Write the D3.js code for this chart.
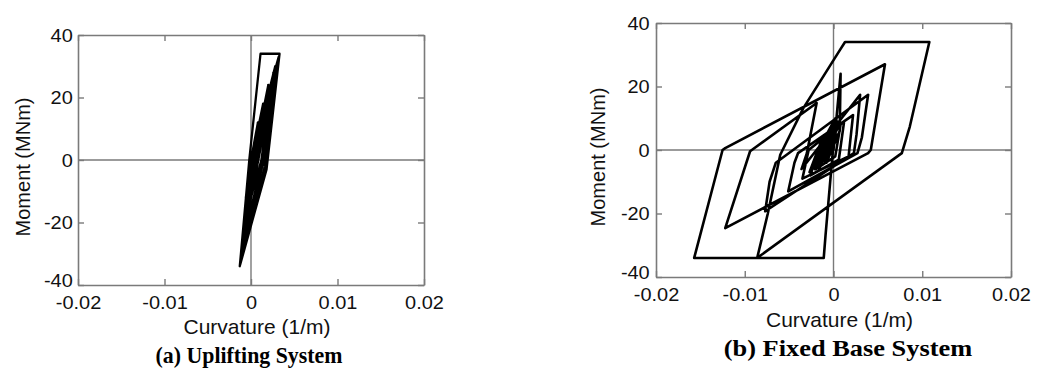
<!DOCTYPE html>
<html>
<head>
<meta charset="utf-8">
<script src="https://cdn.jsdelivr.net/npm/d3@7"></script>
<style>
  body { margin: 0; background: #fff; }
  svg { display: block; }
</style>
</head>
<body>
<svg id="chart" width="1039" height="373"></svg>
<script>
// axis ticks shared by both panels
const curvatureTicks = [-0.02, -0.01, 0, 0.01, 0.02];
const momentTicks = [-40, -20, 0, 20, 40];

// (a) uplifting system: [curvature (1/m), moment (MNm)]
const uplifting = [
  [0, 0], [0.0008, 12], [-0.0003, -5], [0.0014, 18], [-0.0006, -12], [0.0020, 24],
  [0.0003, -2], [-0.0009, -22], [0.0026, 28], [0.0011, -3], [-0.0011, -28],
  [0.0030, 31], [0.0016, -2], [-0.0012, -31], [-0.0002, 0], [0.0011, 34],
  [0.0033, 34], [0.0018, -3], [-0.0013, -34], [-0.0003, -4], [0.0028, 30],
  [0.0015, 0], [-0.0010, -27], [-0.0001, 0], [0.0025, 26], [0.0012, 0],
  [-0.0008, -20], [0.0002, 2], [0.0031, 32], [0.0017, -1], [-0.0012, -32],
  [-0.0002, -1], [0.0032, 33], [0.0016, -3], [-0.0011, -30], [0, 0]
];

// (b) fixed base system: [curvature (1/m), moment (MNm)]
const fixedBase = [
  [0, 0], [0.0003, 9], [0.0008, 24], [0.0007, 6], [-0.0008, -4], [0.0002, 7],
  [-0.0016, -6], [0.0004, 9], [-0.0023, -5], [0.0001, 8], [-0.0013, -3],
  [0.0005, 7], [-0.0027, -7], [-0.0019, -1], [0.0002, 10], [-0.0010, -4],
  [0.0003, 5], [-0.0021, -6], [-0.0014, 0], [0.0004, 9], [0, 2],
  [-0.0009, -27], [-0.0011, -34], [-0.0086, -34], [-0.0074, -20], [-0.0060, -1.5],
  [-0.0034, 13.2], [0.00075, 31.6], [0.0013, 34], [0.0108, 34], [0.0086, 7.4],
  [0.0077, -1], [-0.0086, -34], [-0.0157, -34], [-0.0125, 0], [-0.0122, 0.6],
  [0.0058, 27], [0.0042, 0], [0.0039, -1], [-0.0122, -24.6], [-0.0094, -0.4],
  [-0.0019, 14.8], [-0.0030, -1], [-0.0036, -6], [0.0030, 17.4], [0.0026, 5],
  [0.0023, -1], [-0.0077, -19.3], [-0.0072, -10], [-0.0065, -4], [0.0039, 17.4],
  [0.0032, 4], [0.0027, -1], [-0.0051, -13], [-0.0044, -4], [-0.0040, -1],
  [0.0022, 11], [0.0017, -2], [-0.0035, -9], [-0.0028, 0], [0.0012, 9],
  [0.0006, -3], [-0.0026, -8], [-0.0015, 2], [0.0008, 8], [0.0002, -2],
  [-0.0020, -6], [-0.0006, 4], [0.0003, 6], [-0.0012, -3], [-0.0004, 3],
  [-0.0018, -5], [0, 2]
];

const svg = d3.select('#chart');

function drawPanel(cfg) {
  const x = d3.scaleLinear().domain([-0.02, 0.02]).range(cfg.xRange);
  const y = d3.scaleLinear().domain([-40, 40]).range(cfg.yRange);
  const g = svg.append('g');
  const grey = '#7a7a7a';

  // zero lines
  g.append('line')
    .attr('x1', x(0)).attr('x2', x(0))
    .attr('y1', y(40)).attr('y2', y(-40))
    .attr('stroke', grey).attr('stroke-width', 1.4);
  g.append('line')
    .attr('x1', x(-0.02)).attr('x2', x(0.02))
    .attr('y1', y(0)).attr('y2', y(0))
    .attr('stroke', grey).attr('stroke-width', 1.4);

  const fmt = d => String(d);
  const styleAxis = sel => sel
    .call(s => s.select('.domain').attr('stroke', grey).attr('stroke-width', 1.6))
    .call(s => s.selectAll('.tick line').attr('stroke', grey).attr('stroke-width', 1.4))
    .call(s => s.selectAll('.tick text')
      .attr('fill', '#111')
      .attr('font-family', 'Liberation Sans, Arial, sans-serif')
      .attr('font-size', cfg.tickSize)
      .attr('transform', `scale(${cfg.stretch},1)`));

  g.append('g')
    .attr('transform', `translate(0,${y(-40)})`)
    .call(d3.axisBottom(x).tickValues(curvatureTicks).tickFormat(fmt)
      .tickSizeInner(-6).tickSizeOuter(0).tickPadding(cfg.xPad))
    .call(styleAxis);
  g.append('g')
    .attr('transform', `translate(0,${y(40)})`)
    .call(d3.axisTop(x).tickValues(curvatureTicks).tickFormat('')
      .tickSizeInner(-6).tickSizeOuter(0))
    .call(styleAxis);
  g.append('g')
    .attr('transform', `translate(${x(-0.02)},0)`)
    .call(d3.axisLeft(y).tickValues(momentTicks).tickFormat(fmt)
      .tickSizeInner(-6).tickSizeOuter(0).tickPadding(cfg.yPad))
    .call(styleAxis)
    .call(s => s.selectAll('.tick text').filter(d => d === -40).attr('dy', '0.1em'));
  g.append('g')
    .attr('transform', `translate(${x(0.02)},0)`)
    .call(d3.axisRight(y).tickValues(momentTicks).tickFormat('')
      .tickSizeInner(-6).tickSizeOuter(0))
    .call(styleAxis);

  // hysteresis curve
  const line = d3.line().x(d => x(d[0])).y(d => y(d[1]));
  g.append('path')
    .datum(cfg.data)
    .attr('fill', 'none')
    .attr('stroke', '#000')
    .attr('stroke-width', cfg.lineWidth)
    .attr('stroke-linejoin', 'round')
    .attr('stroke-linecap', 'round')
    .attr('d', line);

  // axis titles
  const cx = (cfg.xRange[0] + cfg.xRange[1]) / 2 + 6;
  g.append('text')
    .attr('transform', `translate(${cx},${cfg.xTitleY}) scale(${cfg.stretch},1)`)
    .attr('text-anchor', 'middle')
    .attr('font-family', 'Liberation Sans, Arial, sans-serif')
    .attr('font-size', cfg.titleSize)
    .attr('fill', '#111')
    .text('Curvature (1/m)');
  g.append('text')
    .attr('transform', `translate(${cfg.yTitleX},${(cfg.yRange[0] + cfg.yRange[1]) / 2 + 7}) rotate(-90)`)
    .attr('text-anchor', 'middle')
    .attr('font-family', 'Liberation Sans, Arial, sans-serif')
    .attr('font-size', cfg.titleSize)
    .attr('fill', '#111')
    .text('Moment (MNm)');

  // caption
  g.append('text')
    .attr('transform', `translate(${cfg.captionX},${cfg.captionY}) scale(${cfg.captionStretch},1)`)
    .attr('text-anchor', 'middle')
    .attr('font-family', 'Liberation Serif, Times New Roman, serif')
    .attr('font-weight', 'bold')
    .attr('font-size', cfg.captionSize)
    .attr('fill', '#000')
    .text(cfg.caption);
}

drawPanel({
  data: uplifting,
  xRange: [78, 424],
  yRange: [285, 35],
  tickSize: 19,
  titleSize: 20,
  stretch: 1.05,
  xPad: 11,
  yPad: 5,
  xTitleY: 334,
  yTitleX: 30,
  lineWidth: 2.3,
  caption: '(a) Uplifting System',
  captionX: 249,
  captionY: 363,
  captionSize: 23,
  captionStretch: 0.95
});

drawPanel({
  data: fixedBase,
  xRange: [656, 1011],
  yRange: [277, 23],
  tickSize: 19,
  titleSize: 20,
  stretch: 1.05,
  xPad: 11,
  yPad: 6,
  xTitleY: 327,
  yTitleX: 605,
  lineWidth: 2.6,
  caption: '(b) Fixed Base System',
  captionX: 848,
  captionY: 356,
  captionSize: 24,
  captionStretch: 1.1
});
</script>
</body>
</html>
